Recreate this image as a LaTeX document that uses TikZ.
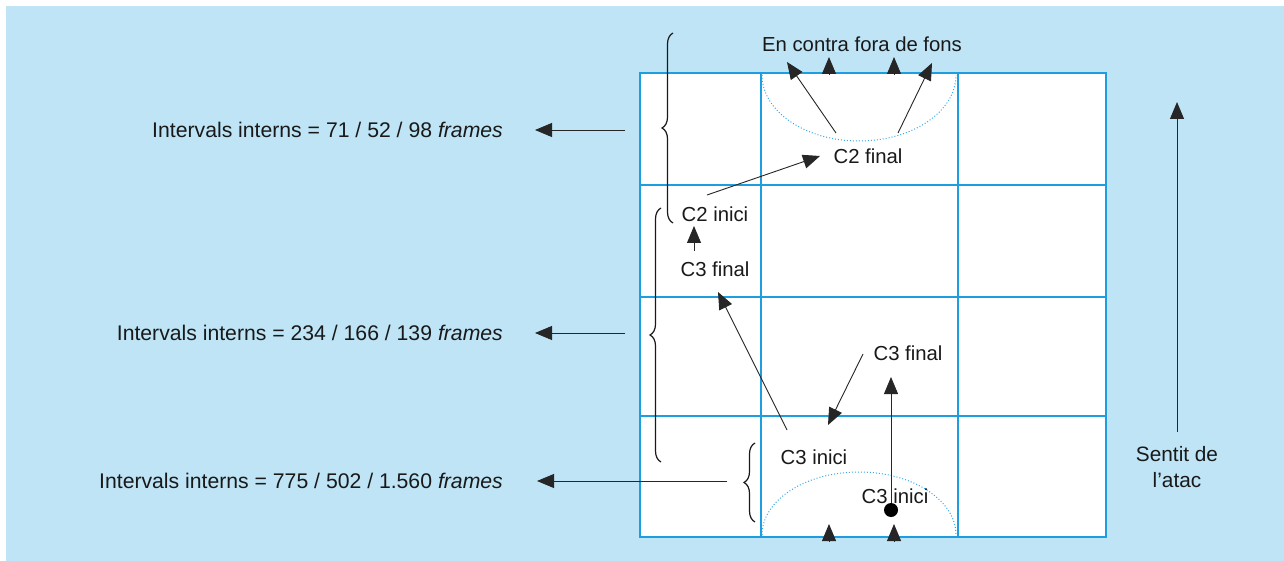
\documentclass[tikz,border=0pt]{standalone}
\usepackage{fontspec}
\setmainfont{Liberation Sans}
\usetikzlibrary{arrows.meta,decorations.pathreplacing}
\definecolor{bg}{HTML}{BEE4F6}
\definecolor{field}{HTML}{1E9EE0}
\definecolor{arcblue}{HTML}{3AA8E6}
\tikzset{
  lbl/.style={inner sep=0pt, font=\fontsize{20.3}{24}\selectfont, text=black!90},
  sidelbl/.style={lbl, anchor=east, font=\fontsize{21.2}{25}\selectfont},
  arr/.style={-{Triangle[length=17pt,width=14pt]}, line width=0.9pt, black!85},
  fieldline/.style={draw=field, line width=1.4pt},
  arcline/.style={draw=arcblue, dotted, line width=1pt},
  bracestyle/.style={decorate, decoration={brace, amplitude=11pt}, line width=1.2pt, black!90}
}
\begin{document}
\begin{tikzpicture}[x=1pt,y=-1pt]
\useasboundingbox (0,0) rectangle (1284,561);
\fill[bg] (6,6) rectangle (1284,561);
% field
\fill[white] (640,73) rectangle (1106,537);
\draw[fieldline] (640,73) rectangle (1106,537);
\draw[fieldline] (761,73) -- (761,537);
\draw[fieldline] (958,73) -- (958,537);
\draw[fieldline] (640,185) -- (1106,185);
\draw[fieldline] (640,297) -- (1106,297);
\draw[fieldline] (640,416) -- (1106,416);
% goal areas
\draw[arcline] (762,75) arc[start angle=180, end angle=0, x radius=97, y radius=66];
\draw[arcline] (762,535) arc[start angle=180, end angle=360, x radius=97, y radius=63];
% texts
\node[lbl] (fons) at (862,44) {En contra fora de fons};
\node[lbl] (c2f) at (868,156) {C2 final};
\node[lbl] (c2i) at (715,214) {C2 inici};
\node[lbl] (c3fl) at (715,269) {C3 final};
\node[lbl] (c3fr) at (908,353) {C3 final};
\node[lbl] (c3il) at (814,457) {C3 inici};
\node[lbl] (c3ir) at (895,496) {C3 inici};
\node[sidelbl] (t1) at (503,130) {Intervals interns = 71 / 52 / 98 \textit{frames}};
\node[sidelbl] (t2) at (503,333) {Intervals interns = 234 / 166 / 139 \textit{frames}};
\node[sidelbl] (t3) at (503,481) {Intervals interns = 775 / 502 / 1.560 \textit{frames}};
\node[lbl, align=center, font=\fontsize{20.8}{25}\selectfont] (sentit) at (1177,467) {Sentit de\\[1pt]l’atac};
% coordinates
\coordinate (a1s) at (836,133); \coordinate (a1e) at (787,62);
\coordinate (a2s) at (898,133); \coordinate (a2e) at (932,63);
\coordinate (h1s) at (829,74); \coordinate (h1e) at (829,57);
\coordinate (h2s) at (894,74); \coordinate (h2e) at (894,57);
\coordinate (h3s) at (829,541); \coordinate (h3e) at (829,524);
\coordinate (h4s) at (894,541); \coordinate (h4e) at (894,524);
\coordinate (b1s) at (707,195); \coordinate (b1e) at (820,156);
\coordinate (b2s) at (694,251); \coordinate (b2e) at (694,226);
\coordinate (b3s) at (787,430); \coordinate (b3e) at (718,292);
\coordinate (b4s) at (863,354); \coordinate (b4e) at (828,425);
\coordinate (dot) at (891,510); \coordinate (b5e) at (891,377);
\coordinate (l1s) at (625,130); \coordinate (l2s) at (625,333); \coordinate (l3s) at (727,481);
\coordinate (l1e) at (535,130); \coordinate (l2e) at (535,333); \coordinate (l3e) at (537,481);
\coordinate (m1s) at (1177,432); \coordinate (m1e) at (1177,102);
% arrows
\draw[arr] (a1s) -- (a1e);
\draw[arr] (a2s) -- (a2e);
\draw[arr] (h1s) -- (h1e);
\draw[arr] (h2s) -- (h2e);
\draw[arr] (h3s) -- (h3e);
\draw[arr] (h4s) -- (h4e);
\draw[arr] (b1s) -- (b1e);
\draw[arr] (b2s) -- (b2e);
\draw[arr] (b3s) -- (b3e);
\draw[arr] (b4s) -- (b4e);
\draw[arr] (dot) -- (b5e);
\fill[black] (dot) circle (7);
\draw[arr] (l1s) -- (l1e);
\draw[arr] (l2s) -- (l2e);
\draw[arr] (l3s) -- (l3e);
\draw[arr] (m1s) -- (m1e);
% braces
\draw[bracestyle] (673,223) -- (673,33);
\draw[bracestyle] (661,462) -- (661,208);
\draw[bracestyle] (755,522) -- (755,443);
\end{tikzpicture}
\end{document}
